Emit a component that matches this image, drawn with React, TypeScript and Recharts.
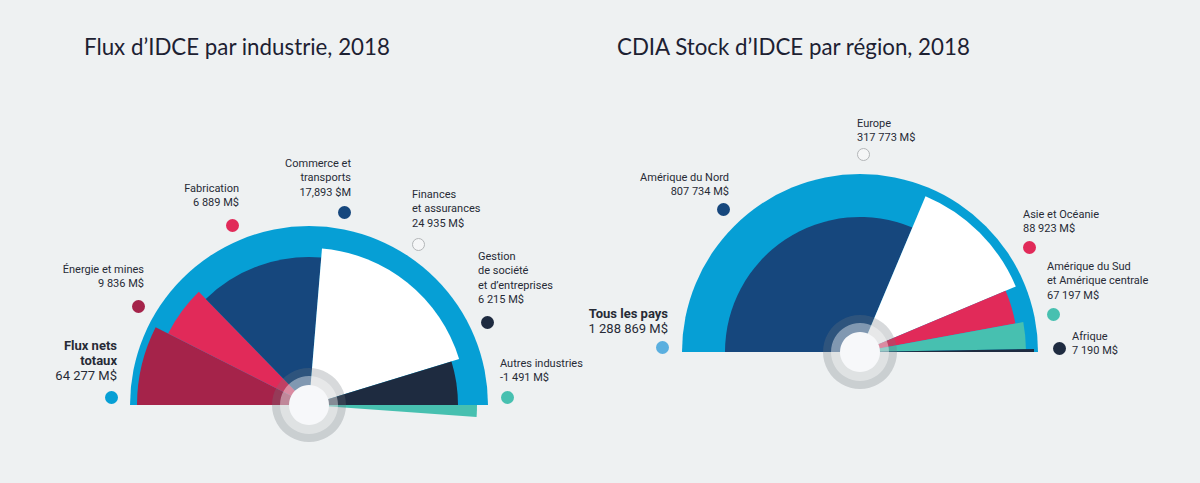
import React from 'react';
import { PieChart, Pie, Cell } from 'recharts';

// Flux d'IDCE par industrie, 2018 (M$)
const industries = [
  'Énergie et mines',
  'Fabrication',
  'Commerce et\ntransports',
  'Finances\net assurances',
  'Gestion\nde société\net d’entreprises',
  'Autres industries',
];
const industryFlows = [9836, 6889, 17893, 24935, 6215, -1491];
const industryValueLabels = ['9 836 M$', '6 889 M$', '17,893 $M', '24 935 M$', '6 215 M$', '-1 491 M$'];
const industryTotal = 64277;
const industryTotalName = 'Flux nets\ntotaux';
const industryTotalLabel = '64 277 M$';

// CDIA Stock d'IDCE par région, 2018 (M$)
const regions = ['Amérique du Nord', 'Europe', 'Asie et Océanie', 'Amérique du Sud\net Amérique centrale', 'Afrique'];
const regionStocks = [807734, 317773, 88923, 67197, 7190];
const regionValueLabels = ['807 734 M$', '317 773 M$', '88 923 M$', '67 197 M$', '7 190 M$'];
const regionTotal = 1288869;
const regionTotalName = 'Tous les pays';
const regionTotalLabel = '1 288 869 M$';

const BG = '#eef1f2';
const BLUE = '#069fd5';
const TEXT = '#272b36';

const industryColors = ['#a5234a', '#e12a59', '#16477d', '#ffffff', '#1e2b40', '#47c0b0'];
const industryRadii = [172, 158, 148, 157, 149, 168];
const regionColors = ['#16477d', '#ffffff', '#e12a59', '#47c0b0', '#1e2b40'];
const regionRadii = [135, 169, 158, 166, 174];

// label placement: x = anchor edge, y = centre of first line, dot = centre of marker
const industryLabelPos = [
  { x: 144, y: 270, align: 'right', dot: [138, 306] },
  { x: 239, y: 189, align: 'right', dot: [232, 225] },
  { x: 351, y: 164, align: 'right', dot: [344, 212] },
  { x: 412, y: 195, align: 'left', dot: [418, 244] },
  { x: 478, y: 257, align: 'left', dot: [487, 322] },
  { x: 500, y: 364, align: 'left', dot: [507, 397] },
];
const regionLabelPos = [
  { x: 729, y: 178, align: 'right', dot: [723, 209] },
  { x: 857, y: 124, align: 'left', dot: [863, 154] },
  { x: 1023, y: 215, align: 'left', dot: [1029, 247] },
  { x: 1047, y: 267, align: 'left', dot: [1053, 314] },
  { x: 1072, y: 337, align: 'left', dot: [1059, 348] },
];

const LEFT = { cx: 309, cy: 405, r: 179 };
const RIGHT = { cx: 860, cy: 352, r: 178 };

type Pos = { x: number; y: number; align: string; dot: number[] };

const Dot = ({ at, color }: { at: number[]; color: string }) => {
  const hollow = color === '#ffffff';
  return (
    <div
      style={{
        position: 'absolute',
        left: at[0] - 6.5,
        top: at[1] - 6.5,
        width: 13,
        height: 13,
        boxSizing: 'border-box',
        borderRadius: '50%',
        background: hollow ? '#f5f6f7' : color,
        border: hollow ? '1.5px solid #b3b6b8' : 'none',
      }}
    />
  );
};

const Label = ({ pos, lines, size = 11, lh = 14.5, bold = 0 }: { pos: Pos; lines: string[]; size?: number; lh?: number; bold?: number }) => (
  <div
    style={{
      position: 'absolute',
      top: pos.y - lh / 2,
      ...(pos.align === 'right' ? { right: 1200 - pos.x } : { left: pos.x }),
      textAlign: pos.align as any,
      fontFamily: 'Roboto, sans-serif',
      fontSize: size,
      lineHeight: `${lh}px`,
      color: TEXT,
      whiteSpace: 'nowrap',
    }}
  >
    {lines.map((l, i) => (
      <div key={i} style={{ fontWeight: i < bold ? 700 : 400 }}>{l}</div>
    ))}
  </div>
);

const Hub = ({ cx, cy }: { cx: number; cy: number }) => (
  <>
    <Pie data={[{ v: 1 }]} dataKey="v" cx={cx} cy={cy} outerRadius={37} startAngle={0} endAngle={360} stroke="none" isAnimationActive={false}>
      <Cell fill="#6f767c" fillOpacity={0.28} />
    </Pie>
    <Pie data={[{ v: 1 }]} dataKey="v" cx={cx} cy={cy} outerRadius={29} startAngle={0} endAngle={360} stroke="none" isAnimationActive={false}>
      <Cell fill="#ffffff" fillOpacity={0.4} />
    </Pie>
    <Pie data={[{ v: 1 }]} dataKey="v" cx={cx} cy={cy} outerRadius={20} startAngle={0} endAngle={360} stroke="none" isAnimationActive={false}>
      <Cell fill="#f7f8fa" />
    </Pie>
  </>
);

export default function App() {
  const industryData = industries.map((name, i) => ({ name, value: Math.abs(industryFlows[i]) }));
  const positiveSum = industryFlows.filter((v) => v > 0).reduce((a, b) => a + b, 0);
  const absSum = industryData.reduce((a, d) => a + d.value, 0);
  const industryEnd = 180 - (180 * absSum) / positiveSum;

  const regionData = regions.map((name, i) => ({ name, value: regionStocks[i] }));

  const titleStyle: React.CSSProperties = { position: 'absolute', top: 33, fontFamily: 'Lato, sans-serif', fontSize: 22.3, color: '#1d2132', whiteSpace: 'nowrap' };

  return (
    <div style={{ position: 'absolute', left: 0, top: 0, width: 1200, height: 483, background: BG, overflow: 'hidden' }}>
      <div style={{ ...titleStyle, left: 84 }}>Flux d’IDCE par industrie, 2018</div>
      <div style={{ ...titleStyle, left: 617 }}>CDIA Stock d’IDCE par région, 2018</div>

      <div style={{ position: 'absolute', left: 0, top: 0 }}>
        <PieChart width={1200} height={483} margin={{ top: 0, right: 0, bottom: 0, left: 0 }}>
          {/* totals: full blue half disc */}
          <Pie data={[{ name: 'total', value: industryTotal }]} dataKey="value" cx={LEFT.cx} cy={LEFT.cy} outerRadius={LEFT.r} startAngle={180} endAngle={0} stroke="none" fill={BLUE} isAnimationActive={false} />
          <Pie data={[{ name: 'total', value: regionTotal }]} dataKey="value" cx={RIGHT.cx} cy={RIGHT.cy} outerRadius={RIGHT.r} startAngle={180} endAngle={0} stroke="none" fill={BLUE} isAnimationActive={false} />

          {industryData.map((_, k) => (
            <Pie key={`ind-${k}`} data={industryData} dataKey="value" cx={LEFT.cx} cy={LEFT.cy} outerRadius={industryRadii[k]} startAngle={180} endAngle={industryEnd} stroke="none" isAnimationActive={false}>
              {industryData.map((d, i) => (
                <Cell key={d.name} fill={i === k ? industryColors[i] : 'transparent'} />
              ))}
            </Pie>
          ))}

          {regionData.map((_, k) => (
            <Pie key={`reg-${k}`} data={regionData} dataKey="value" cx={RIGHT.cx} cy={RIGHT.cy} outerRadius={regionRadii[k]} startAngle={180} endAngle={0} stroke="none" isAnimationActive={false}>
              {regionData.map((d, i) => (
                <Cell key={d.name} fill={i === k ? regionColors[i] : 'transparent'} />
              ))}
            </Pie>
          ))}

          {Hub({ cx: LEFT.cx, cy: LEFT.cy })}
          {Hub({ cx: RIGHT.cx, cy: RIGHT.cy })}
        </PieChart>
      </div>

      {industries.map((name, i) => (
        <React.Fragment key={name}>
          <Label pos={industryLabelPos[i]} lines={[...name.split('\n'), industryValueLabels[i]]} />
          <Dot at={industryLabelPos[i].dot} color={industryColors[i]} />
        </React.Fragment>
      ))}
      <Label pos={{ x: 117, y: 345, align: 'right', dot: [] }} lines={[...industryTotalName.split('\n'), industryTotalLabel]} size={13} lh={15} bold={2} />
      <Dot at={[111, 397]} color={BLUE} />

      {regions.map((name, i) => (
        <React.Fragment key={name}>
          <Label pos={regionLabelPos[i]} lines={[...name.split('\n'), regionValueLabels[i]]} />
          <Dot at={regionLabelPos[i].dot} color={regionColors[i]} />
        </React.Fragment>
      ))}
      <Label pos={{ x: 668, y: 313, align: 'right', dot: [] }} lines={[regionTotalName, regionTotalLabel]} size={13} lh={15} bold={1} />
      <Dot at={[662, 347]} color="#5aafdf" />
    </div>
  );
}
